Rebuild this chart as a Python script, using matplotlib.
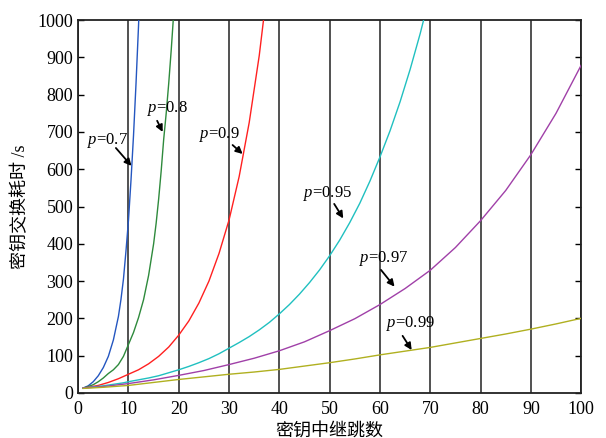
import matplotlib
matplotlib.use("Agg")
import matplotlib.pyplot as plt

plt.rcParams['font.family'] = ['Liberation Serif', 'Noto Sans CJK SC']
plt.rcParams['mathtext.fontset'] = 'custom'
plt.rcParams['mathtext.it'] = 'Liberation Serif:italic'
plt.rcParams['mathtext.rm'] = 'Liberation Serif'

# values (hops -> key exchange time in s)
x_07 = [1, 2, 3, 4, 5, 6, 7, 8, 8.5, 9, 9.5, 10, 10.5, 11, 11.5, 12, 12.5]
y_07 = [13, 19, 30, 46, 68, 98, 142, 205, 250, 305, 380, 463, 570, 690, 830, 985, 1170]

x_08 = [1, 2, 3, 4, 5, 6, 7, 8, 9, 10, 11, 12, 13, 14, 15, 15.5, 16, 16.5, 17, 17.5, 18, 18.5, 19]
y_08 = [13, 17, 22, 30, 40, 52, 62, 76, 98, 130, 162, 202, 250, 315, 400, 455, 520, 595, 680, 750, 830, 920, 1020]

x_09 = [1, 2, 4, 6, 8, 10, 12, 14, 16, 18, 20, 22, 24, 26, 28, 30, 32, 34, 36, 38]
y_09 = [13, 15, 20, 28, 38, 50, 62, 78, 98, 123, 155, 193, 241, 300, 374, 464, 580, 725, 905, 1130]

x_095 = [1, 3, 5, 7, 9, 10, 12, 14, 16, 18, 20, 22, 24, 26, 28, 30, 32, 34, 36, 38, 40,
         42, 44, 46, 48, 50, 52, 54, 56, 58, 60, 62, 64, 66, 68, 70]
y_095 = [13, 16, 19, 23, 27, 30, 35, 40, 46, 54, 62, 71, 81, 92, 105, 120, 135, 151, 169, 189, 212,
         237, 265, 296, 330, 368, 410, 457, 509, 568, 633, 703, 781, 868, 964, 1071]

x_097 = [1, 5, 10, 15, 20, 25, 30, 35, 40, 45, 50, 55, 60, 65, 70, 75, 80, 85, 90, 95, 100]
y_097 = [13, 17, 25, 35, 47, 60, 76, 93, 113, 137, 167, 199, 237, 280, 329, 390, 462, 543, 639, 750, 879]

x_099 = [1, 5, 10, 15, 20, 25, 30, 35, 40, 45, 50, 55, 60, 65, 70, 75, 80, 85, 90, 95, 100]
y_099 = [12, 15, 20, 28, 36, 43, 50, 56, 63, 72, 81, 91, 102, 112, 122, 134, 146, 158, 171, 185, 200]

labels = ['0.7', '0.8', '0.9', '0.95', '0.97', '0.99']
colors = ['#2456c0', '#2e8a3c', '#ff2020', '#20c0c0', '#a040a8', '#b0b020']

# label text centre, arrow tail, arrow tip (data units)
text_pos = [(5.8, 678), (17.8, 764), (28.0, 692), (49.6, 535), (60.8, 361), (66.1, 187)]
arrow_tail = [(7.5, 657), (15.7, 730), (30.7, 665), (50.9, 507), (60.2, 330), (64.5, 153)]
arrow_tip = [(10.6, 609), (16.8, 700), (32.7, 641), (52.7, 468), (62.9, 285), (66.3, 115)]

fig = plt.figure(figsize=(6.06, 4.38), dpi=100)
ax = fig.add_axes([0.129, 0.103, 0.83, 0.851])

series = [(x_07, y_07), (x_08, y_08), (x_09, y_09), (x_095, y_095), (x_097, y_097), (x_099, y_099)]
for (xs, ys), c in zip(series, colors):
    ax.plot(xs, ys, color=c, lw=1.0, zorder=3)

for i in range(len(labels)):
    ax.text(text_pos[i][0], text_pos[i][1], '$p$=' + labels[i], fontsize=12,
            ha='center', va='center', zorder=4)
    ax.annotate('', xy=arrow_tip[i], xytext=arrow_tail[i],
                arrowprops=dict(arrowstyle='-|>', color='k', lw=1.3, mutation_scale=10,
                                shrinkA=0, shrinkB=0), zorder=4)

ax.set_xlim(0, 100)
ax.set_ylim(0, 1000)
ax.set_xticks(range(0, 101, 10))
ax.set_yticks(range(0, 1001, 100))
ax.grid(axis='x', color='#222222', lw=1.1)
ax.tick_params(direction='in', labelsize=13, length=4, width=1.0, right=True, top=False)
ax.tick_params(axis='x', length=0, pad=6)
for s in ax.spines.values():
    s.set_linewidth(1.3)
    s.set_color('#222222')

ax.set_xlabel('密钥中继跳数', fontsize=13, labelpad=3)
ax.set_ylabel('密钥交换耗时 /s', fontsize=13, labelpad=6)

fig.savefig('out.png', dpi=100)
